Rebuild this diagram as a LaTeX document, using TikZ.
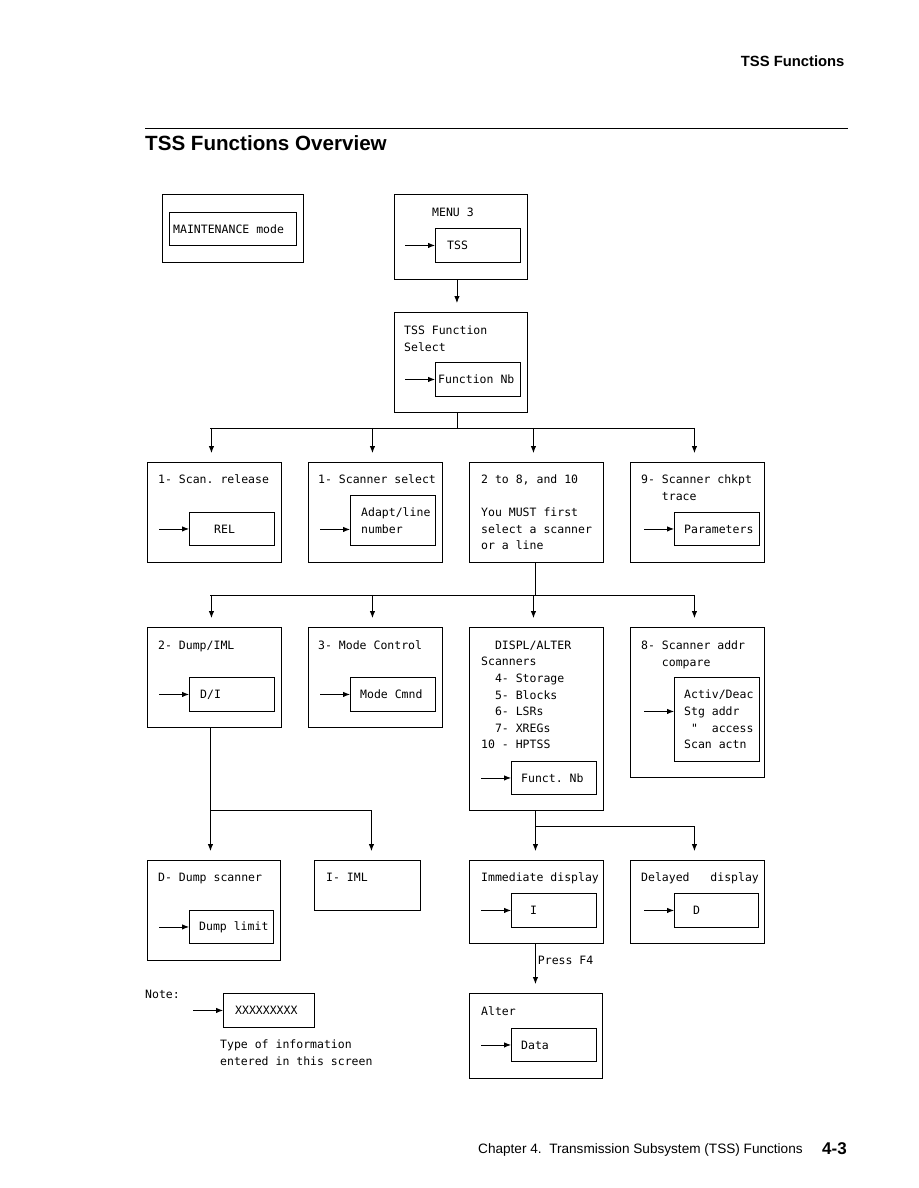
\documentclass[tikz,border=0pt]{standalone}
\usepackage{fontspec}
\setmainfont{Liberation Sans}
\newfontfamily\screenfont{DejaVu Sans Mono}
\usetikzlibrary{positioning, calc, arrows.meta}

\begin{document}
\frenchspacing
\begin{tikzpicture}[x=1pt, y=-1pt,
    every node/.style={font=\screenfont\fontsize{11.5}{16.6}\selectfont},
    screen/.style={draw, line width=0.9pt, anchor=north west, inner sep=0pt, minimum width=134, minimum height=100},
    field/.style={draw, line width=0.9pt, anchor=north west, inner sep=0pt, minimum width=85, minimum height=34},
    txt/.style={anchor=north west, inner sep=0pt, align=left},
    fieldtxt/.style={inner sep=0pt, align=left},
    arrow/.style={-{Latex[length=7pt, width=5.5pt]}, line width=0.9pt, shorten >=9pt},
    entry/.style={-{Latex[length=7pt, width=5.5pt]}, line width=0.9pt}
  ]
  \useasboundingbox (0,0) rectangle (918,1188);

  \node[anchor=base east, font=\bfseries\fontsize{14.8}{16}\selectfont] (runhead) at (848,67) {TSS Functions};
  \draw[line width=1pt] (145,129) -- (848,129);
  \node[anchor=west, inner sep=0pt, font=\bfseries\fontsize{20.6}{24}\selectfont] (title) at (145,143) {TSS Functions Overview};

  % top screens
  \node[screen, minimum width=141, minimum height=68] (maint) at (162,194) {};
  \node[field, minimum width=127, minimum height=33] (mode) at (169,212) {};
  \node[fieldtxt, right=4pt of mode.west] (modetxt) {MAINTENANCE mode};

  \node[screen, minimum width=133, minimum height=85] (menu) at (394,194) {};
  \node[txt] (menutxt) at (432,207.5) {MENU 3};
  \node[field] (tss) at (435,228) {};
  \node[fieldtxt, right=12pt of tss.west] (tsstxt) {TSS};

  \node[screen, minimum width=133] (fsel) at (394,312) {};
  \node[txt] (fseltxt) at (404,325.5) {TSS Function\\Select};
  \node[field] (fnb) at (435,362) {};
  \node[fieldtxt, right=3pt of fnb.west] (fnbtxt) {Function Nb};

  % first row
  \node[screen] (scanrel) at (147,462) {};
  \node[txt] (scanreltxt) at (158,474.5) {1- Scan. release};
  \node[field, minimum height=33] (rel) at (189,512) {};
  \node[fieldtxt, right=25pt of rel.west] (reltxt) {REL};

  \node[screen] (scansel) at (308,462) {};
  \node[txt] (scanseltxt) at (318,474.5) {1- Scanner select};
  \node[field, minimum height=50] (adapt) at (350,495) {};
  \node[fieldtxt, right=11pt of adapt.west] (adapttxt) {Adapt/line\\number};

  \node[screen] (mustsel) at (469,462) {};
  \node[txt] (mustseltxt) at (481,474.5) {2 to 8, and 10\\[16.6pt]You MUST first\\select a scanner\\or a line};

  \node[screen] (chkpt) at (630,462) {};
  \node[txt] (chkpttxt) at (641,474.5) {9- Scanner chkpt\\\phantom{xxx}trace};
  \node[field, minimum height=33] (par) at (674,512) {};
  \node[fieldtxt, right=10pt of par.west] (partxt) {Parameters};

  % second row
  \node[screen] (dumpiml) at (147,627) {};
  \node[txt] (dumpimltxt) at (158,640.5) {2- Dump/IML};
  \node[field] (di) at (189,677) {};
  \node[fieldtxt, right=11pt of di.west] (ditxt) {D/I};

  \node[screen] (modectl) at (308,627) {};
  \node[txt] (modectltxt) at (318,640.5) {3- Mode Control};
  \node[field] (mc) at (350,677) {};
  \node[fieldtxt, right=10pt of mc.west] (mctxt) {Mode Cmnd};

  \node[screen, minimum height=183] (displ) at (469,627) {};
  \node[txt] (displtxt) at (481,640.5) {\phantom{xx}DISPL/ALTER\\Scanners\\\phantom{xx}4- Storage\\\phantom{xx}5- Blocks\\\phantom{xx}6- LSRs\\\phantom{xx}7- XREGs\\10 - HPTSS};
  \node[field, minimum height=33] (fn) at (511,761) {};
  \node[fieldtxt, right=10pt of fn.west] (fntxt) {Funct. Nb};

  \node[screen, minimum height=150] (addrcmp) at (630,627) {};
  \node[txt] (addrcmptxt) at (641,640.5) {8- Scanner addr\\\phantom{xxx}compare};
  \node[field, minimum height=84] (actv) at (674,677) {};
  \node[fieldtxt, right=10pt of actv.west] (actvtxt) {Activ/Deac\\Stg addr\\\phantom{x}"\phantom{xx}access\\Scan actn};

  % third row
  \node[screen, minimum width=133] (dumpscn) at (147,860) {};
  \node[txt] (dumpscntxt) at (158,872.5) {D- Dump scanner};
  \node[field, minimum width=84, minimum height=33] (dl) at (189,910) {};
  \node[fieldtxt, right=10pt of dl.west] (dltxt) {Dump limit};

  \node[screen, minimum width=106, minimum height=50] (iml) at (314,860) {};
  \node[txt] (imltxt) at (326,872.5) {I- IML};

  \node[screen, minimum height=83] (immed) at (469,860) {};
  \node[txt] (immedtxt) at (481,872.5) {Immediate display};
  \node[field] (imm) at (511,893) {};
  \node[fieldtxt, right=19pt of imm.west] (immtxt) {I};

  \node[screen, minimum height=83] (delay) at (630,860) {};
  \node[txt] (delaytxt) at (641,872.5) {Delayed\phantom{xxx}display};
  \node[field, minimum width=84] (del) at (674,893) {};
  \node[fieldtxt, right=19pt of del.west] (deltxt) {D};

  \node[screen, minimum width=133, minimum height=85] (alter) at (469,993) {};
  \node[txt] (altertxt) at (481,1006.5) {Alter};
  \node[field, minimum height=33] (data) at (511,1028) {};
  \node[fieldtxt, right=10pt of data.west] (datatxt) {Data};

  % note
  \node[txt] (note) at (145,989.5) {Note:};
  \node[field, minimum width=91] (xs) at (223,993) {};
  \node[fieldtxt, right=12pt of xs.west] (xstxt) {XXXXXXXXX};
  \node[txt] (info) at (220,1039.5) {Type of information\\entered in this screen};

  % entry arrows
  \foreach \f in {tss, fnb, rel, par, di, mc, fn, dl, imm, del, data, xs}
    \draw[entry] ([xshift=-30pt]\f.west) -- (\f.west);
  \draw[entry] ([xshift=-30pt, yshift=-9pt]adapt.west) -- ([yshift=-9pt]adapt.west);
  \draw[entry] ([xshift=-30pt, yshift=8pt]actv.west) -- ([yshift=8pt]actv.west);

  % connectors
  \draw[arrow] ([xshift=-4pt]menu.south) -- ([xshift=-4pt]fsel.north);

  \draw ([xshift=-4pt]fsel.south) -- ++(0,15) coordinate (bus1);
  \draw ([xshift=-4pt]bus1 -| scanrel.north) -- ([xshift=-3pt]bus1 -| chkpt.north);
  \foreach \n in {scanrel, scansel, mustsel, chkpt}
    \draw[arrow] ([xshift=-3pt]bus1 -| \n.north) -- ([xshift=-3pt]\n.north);

  \draw ([xshift=-1pt]mustsel.south) -- ++(0,32) coordinate (bus2);
  \draw ([xshift=-4pt]bus2 -| dumpiml.north) -- ([xshift=-3pt]bus2 -| addrcmp.north);
  \foreach \n in {dumpiml, modectl, displ, addrcmp}
    \draw[arrow] ([xshift=-3pt]bus2 -| \n.north) -- ([xshift=-3pt]\n.north);

  \draw[arrow] ([xshift=-4pt]dumpiml.south) -- ([xshift=-4pt]dumpiml.south |- dumpscn.north);
  \path ([xshift=-4pt]dumpiml.south) ++(0,83) coordinate (bus3);
  \draw[arrow] (bus3) -| ([xshift=4pt]iml.north);

  \draw[arrow] ([xshift=-1pt]displ.south) -- ([xshift=-1pt]displ.south |- immed.north);
  \path ([xshift=-1pt]displ.south) ++(0,16) coordinate (bus4);
  \draw[arrow] (bus4) -| ([xshift=-3pt]delay.north);

  \draw[arrow] ([xshift=-1pt]immed.south) -- ([xshift=-1pt]immed.south |- alter.north)
    node[pos=0.34, right, inner xsep=2pt] (press) {Press F4};

  \node[anchor=base west, inner sep=0pt, font=\fontsize{13.6}{16}\selectfont] (foot) at (478,1153) {Chapter 4.\ \ Transmission Subsystem (TSS) Functions};
  \node[anchor=base east, inner sep=0pt, font=\bfseries\fontsize{17}{20}\selectfont] (page) at (847,1154) {4-3};
\end{tikzpicture}
\end{document}
